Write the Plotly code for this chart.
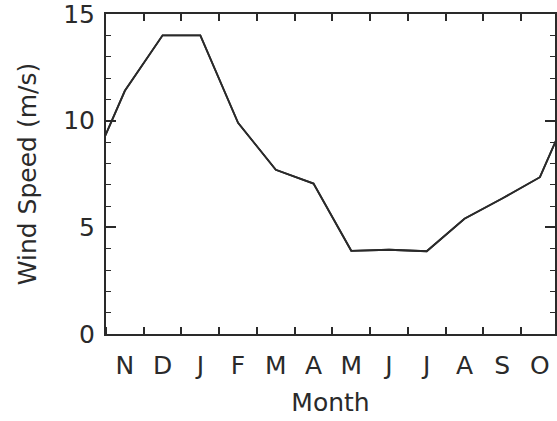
import plotly.graph_objects as go

months = ["N", "D", "J", "F", "M", "A", "M", "J", "J", "A", "S", "O"]
wind_speed = [11.4, 14.0, 14.0, 9.9, 7.7, 7.05, 3.9, 3.95, 3.88, 5.4, 6.35, 7.35]
y_ticks = [0, 5, 10, 15]

# positions: month i centered at i + 0.5; wrap one month on each side (cyclic)
x_vals = [-0.5] + [i + 0.5 for i in range(len(months))] + [len(months) + 0.5]
y_vals = [wind_speed[-1]] + wind_speed + [wind_speed[0]]

ink = "#2a2a2a"
font = "DejaVu Sans"
x_range = [0, 11.90]

fig = go.Figure()
fig.add_trace(go.Scatter(x=x_vals, y=y_vals, mode="lines",
                         line=dict(color=ink, width=1.8), showlegend=False))
# same series on the overlaid top axis so its (mirrored) ticks are drawn
fig.add_trace(go.Scatter(x=x_vals, y=y_vals, xaxis="x2", yaxis="y",
                         mode="lines", line=dict(color=ink, width=1.8),
                         showlegend=False, hoverinfo="skip"))

fig.update_layout(
    width=557, height=421,
    margin=dict(l=106, r=0, t=12, b=87),
    paper_bgcolor="white", plot_bgcolor="white",
    font=dict(family=font, color=ink),
    xaxis=dict(
        range=x_range,
        tickmode="array",
        tickvals=[i + 0.5 for i in range(len(months))],
        ticktext=months,
        ticks="",
        showline=True, linecolor=ink, linewidth=2, mirror=True,
        showgrid=False, zeroline=False,
        tickfont=dict(size=25, family=font, color=ink),
        ticklabelstandoff=8,
        minor=dict(ticks="inside", tick0=0, dtick=1, ticklen=7,
                   tickwidth=1.5, tickcolor=ink, showgrid=False),
        title=dict(text="Month", font=dict(size=25, family=font, color=ink),
                   standoff=14),
    ),
    xaxis2=dict(
        range=x_range, overlaying="x", side="top",
        tickmode="linear", tick0=0, dtick=1,
        ticks="inside", ticklen=7, tickwidth=1.5, tickcolor=ink,
        showticklabels=False, showline=False, showgrid=False, zeroline=False,
    ),
    yaxis=dict(
        range=[0, 15],
        tickmode="array", tickvals=y_ticks,
        ticks="inside", ticklen=10, tickwidth=1.5, tickcolor=ink,
        showline=True, linecolor=ink, linewidth=2, mirror="ticks",
        showgrid=False, zeroline=False,
        tickfont=dict(size=25, family=font, color=ink),
        ticklabelstandoff=4,
        ticklabeloverflow="allow",
        minor=dict(ticks="inside", dtick=1, ticklen=5, tickwidth=1.2,
                   tickcolor=ink, showgrid=False),
        title=dict(text="Wind Speed (m/s)",
                   font=dict(size=25, family=font, color=ink), standoff=19),
    ),
)

fig.write_html("out.html")
